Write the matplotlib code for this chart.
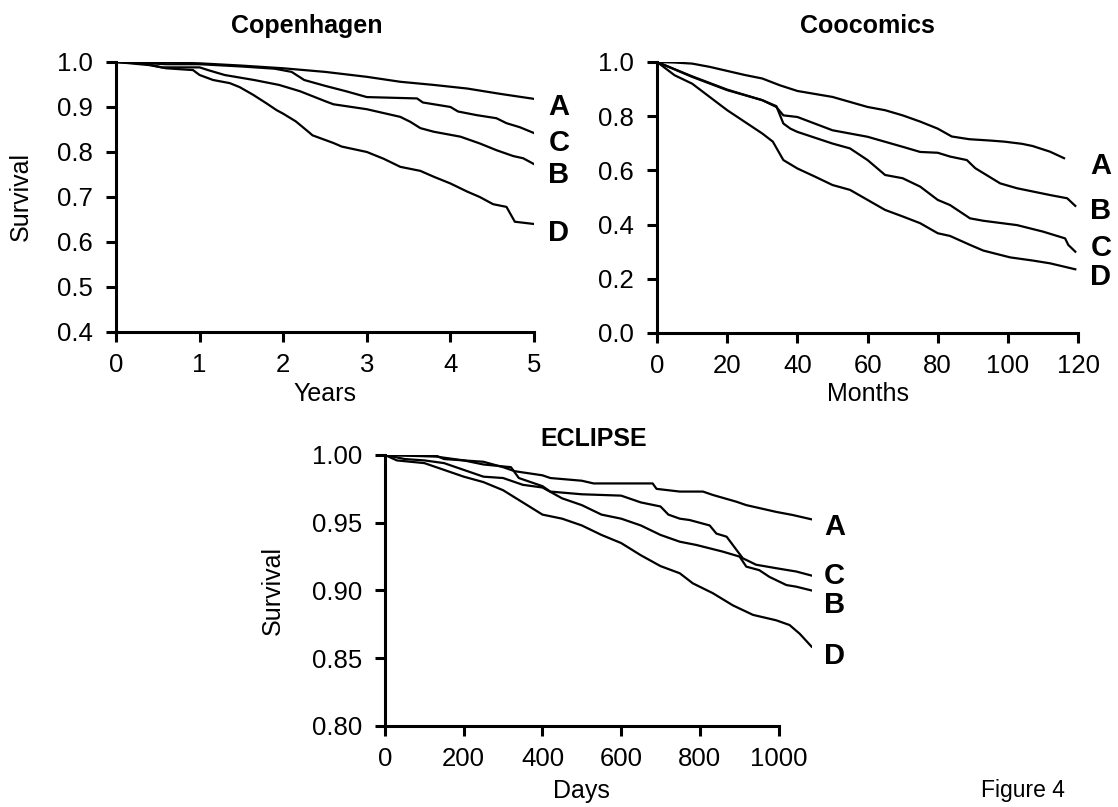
import matplotlib
matplotlib.use('Agg')
import matplotlib.pyplot as plt

plt.rcParams['font.family'] = ['Liberation Sans', 'DejaVu Sans']

# Copenhagen, years
cph_t = {
    'A': [0, 0.3, 0.6, 1.0, 1.5, 2.0, 2.5, 3.0, 3.4, 3.8, 4.2, 4.6, 5.0],
    'C': [0, 0.4, 0.6, 1.0, 1.5, 1.9, 2.1, 2.25, 2.5, 2.75, 3.0, 3.6, 3.67, 4.0, 4.09, 4.31,
          4.55, 4.67, 4.83, 5.0],
    'B': [0, 0.35, 0.55, 1.0, 1.1, 1.3, 1.65, 1.95, 2.2, 2.5, 2.6, 3.0, 3.4, 3.52, 3.64, 3.8,
          4.12, 4.35, 4.55, 4.75, 4.87, 5.0],
    'D': [0, 0.4, 0.6, 0.92, 1.0, 1.16, 1.36, 1.48, 1.64, 1.8, 1.92, 2.0, 2.15, 2.3, 2.35,
          2.6, 2.7, 3.0, 3.2, 3.4, 3.64, 3.8, 4.0, 4.2, 4.35, 4.51, 4.67, 4.77, 5.0],
}
cph_s = {
    'A': [1.0, 1.0, 0.999, 0.997, 0.992, 0.986, 0.978, 0.967, 0.956, 0.949, 0.941, 0.929, 0.918],
    'C': [1.0, 0.997, 0.995, 0.995, 0.99, 0.985, 0.978, 0.96, 0.947, 0.935, 0.922, 0.919,
          0.91, 0.90, 0.89, 0.882, 0.875, 0.864, 0.855, 0.842],
    'B': [1.0, 0.996, 0.988, 0.988, 0.982, 0.971, 0.96, 0.949, 0.935, 0.913, 0.906, 0.895,
          0.878, 0.867, 0.853, 0.845, 0.834, 0.819, 0.804, 0.791, 0.786, 0.773],
    'D': [1.0, 0.993, 0.986, 0.982, 0.971, 0.96, 0.953, 0.944, 0.927, 0.908, 0.893, 0.885,
          0.868, 0.845, 0.837, 0.82, 0.812, 0.80, 0.785, 0.767, 0.758, 0.745, 0.73, 0.712,
          0.70, 0.684, 0.678, 0.645, 0.64],
}
cph_lab_y = {'A': 0.90, 'C': 0.82, 'B': 0.749, 'D': 0.62}

# Coocomics, months
coo_t = {
    'A': [0, 5, 10, 15, 20, 25, 30, 35, 40, 50, 60, 65, 70, 75, 80, 84, 89, 95, 99, 104,
          107, 112, 116],
    'B': [0, 10, 20, 30, 34, 36, 40, 50, 60, 70, 75, 80, 83.5, 88.3, 90.7, 97.8, 102.6, 112,
          116.9, 119.2],
    'C': [0, 10, 20, 30, 34, 36, 38, 40, 50, 55, 60, 65, 70, 75, 80, 83.5, 89.2, 93, 102.6,
          110, 116.3, 117.2, 119.2],
    'D': [0, 5, 10, 15, 20, 25, 30, 33, 36, 40, 45, 50, 55, 60, 65, 70, 75, 80, 83.5, 89.2,
          93, 100.6, 107.2, 112, 119.2],
}
coo_s = {
    'A': [1.0, 0.998, 0.994, 0.982, 0.967, 0.952, 0.939, 0.914, 0.893, 0.871, 0.834, 0.822,
          0.803, 0.78, 0.754, 0.725, 0.715, 0.71, 0.706, 0.698, 0.69, 0.669, 0.645],
    'B': [1.0, 0.945, 0.896, 0.859, 0.834, 0.803, 0.797, 0.748, 0.724, 0.687, 0.668, 0.665,
          0.651, 0.638, 0.608, 0.552, 0.534, 0.509, 0.497, 0.469],
    'C': [1.0, 0.947, 0.898, 0.859, 0.837, 0.773, 0.754, 0.742, 0.699, 0.681, 0.638, 0.583,
          0.571, 0.54, 0.491, 0.472, 0.423, 0.414, 0.398, 0.374, 0.349, 0.325, 0.30],
    'D': [1.0, 0.951, 0.92, 0.871, 0.822, 0.779, 0.736, 0.706, 0.638, 0.607, 0.577, 0.546,
          0.528, 0.491, 0.454, 0.43, 0.405, 0.368, 0.358, 0.325, 0.304, 0.279, 0.267, 0.257,
          0.235],
}
coo_lab_y = {'A': 0.615, 'B': 0.45, 'C': 0.315, 'D': 0.207}

# ECLIPSE, days
ecl_t = {
    'A': [0, 130, 150, 250, 300, 330, 400, 420, 500, 530, 680, 690, 749, 808, 833, 893, 918,
          994, 1036, 1084],
    'C': [0, 130, 200, 250, 320, 340, 400, 420, 500, 600, 650, 700, 720, 749, 774, 825, 842,
          868, 893, 909, 943, 1003, 1045, 1084],
    'B': [0, 50, 100, 150, 200, 250, 300, 350, 400, 450, 500, 550, 600, 650, 700, 749, 791,
          858, 901, 918, 951, 977, 1020, 1045, 1084],
    'D': [0, 30, 100, 150, 200, 250, 300, 350, 400, 450, 500, 550, 600, 650, 700, 749, 782,
          833, 884, 935, 994, 1028, 1054, 1084],
}
ecl_s = {
    'A': [1.0, 0.9995, 0.997, 0.995, 0.991, 0.988, 0.985, 0.983, 0.981, 0.979, 0.979, 0.975,
          0.973, 0.973, 0.9705, 0.9655, 0.963, 0.958, 0.9557, 0.9525],
    'C': [1.0, 0.9988, 0.996, 0.993, 0.991, 0.983, 0.977, 0.973, 0.971, 0.97, 0.965, 0.962,
          0.956, 0.953, 0.952, 0.948, 0.942, 0.9397, 0.930, 0.9238, 0.919, 0.916, 0.914, 0.911],
    'B': [1.0, 0.997, 0.996, 0.994, 0.989, 0.984, 0.983, 0.978, 0.976, 0.968, 0.963, 0.956,
          0.953, 0.948, 0.941, 0.936, 0.9336, 0.9287, 0.925, 0.9176, 0.915, 0.910, 0.904,
          0.9028, 0.900],
    'D': [1.0, 0.996, 0.994, 0.989, 0.984, 0.98, 0.974, 0.965, 0.956, 0.953, 0.948, 0.941,
          0.935, 0.926, 0.918, 0.9127, 0.9053, 0.898, 0.889, 0.882, 0.878, 0.8745, 0.868,
          0.8585],
}
ecl_lab_y = {'A': 0.947, 'C': 0.911, 'B': 0.889, 'D': 0.852}

fig = plt.figure(figsize=(11.18, 8.07), dpi=100)


def km_panel(rect, title, title_pos, t, s, labx, laby, xlim, ylim, xticks, yticks, yfmt,
             xlabel, xlab_pos, ylab_x, xbound):
    ax = fig.add_axes(rect)
    for k in t:
        ax.plot(t[k], s[k], color='black', lw=1.6)
    for k, yv in laby.items():
        ax.text(labx, yv, k, fontsize=21, fontweight='bold', va='center', ha='left',
                clip_on=False)
    ax.set_xlim(*xlim)
    ax.set_ylim(*ylim)
    ax.set_xticks(xticks)
    ax.set_yticks(yticks)
    ax.set_yticklabels([yfmt.format(v) for v in yticks])
    ax.spines['top'].set_visible(False)
    ax.spines['right'].set_visible(False)
    for sp in ['left', 'bottom']:
        ax.spines[sp].set_linewidth(2.2)
    ax.spines['bottom'].set_bounds(xbound[0], xbound[1])
    ax.tick_params(direction='out', length=7.5, width=2.2, labelsize=18.5)
    ax.tick_params(axis='x', pad=7.5)
    ax.tick_params(axis='y', pad=9)
    ax.text(xlab_pos[0], xlab_pos[1], xlabel, fontsize=18, ha='center', va='center',
            transform=ax.transAxes)
    if ylab_x is not None:
        ax.text(ylab_x, 0.5, 'Survival', fontsize=18, rotation=90, ha='center', va='center',
                transform=ax.transAxes)
    ax.text(title_pos[0], title_pos[1], title, fontsize=18, fontweight='bold', ha='center',
            va='baseline', transform=ax.transAxes)
    return ax


km_panel([0.1038, 0.5886, 0.3739, 0.3346], 'Copenhagen', (0.457, 1.107), cph_t, cph_s, 5.17,
         cph_lab_y, (0, 5), (0.4, 1.0), [0, 1, 2, 3, 4, 5],
         [0.4, 0.5, 0.6, 0.7, 0.8, 0.9, 1.0], '{:.1f}', 'Years', (0.5, -0.23), -0.228, (0, 5))
km_panel([0.5877, 0.5874, 0.3766, 0.3358], 'Coocomics', (0.499, 1.107), coo_t, coo_s, 123.5,
         coo_lab_y, (0, 120), (0.0, 1.0), [0, 20, 40, 60, 80, 100, 120],
         [0.0, 0.2, 0.4, 0.6, 0.8, 1.0], '{:.1f}', 'Months', (0.5, -0.225), None, (0, 120))
km_panel([0.3444, 0.1004, 0.3819, 0.3358], 'ECLIPSE', (0.489, 1.033), ecl_t, ecl_s, 1115,
         ecl_lab_y, (0, 1085), (0.80, 1.0), [0, 200, 400, 600, 800, 1000],
         [0.80, 0.85, 0.90, 0.95, 1.00], '{:.2f}', 'Days', (0.461, -0.24), -0.262, (0, 1000))

fig.text(0.915, 0.021, 'Figure 4', fontsize=16.5, ha='center', va='center')

fig.savefig('out.png', dpi=100)
